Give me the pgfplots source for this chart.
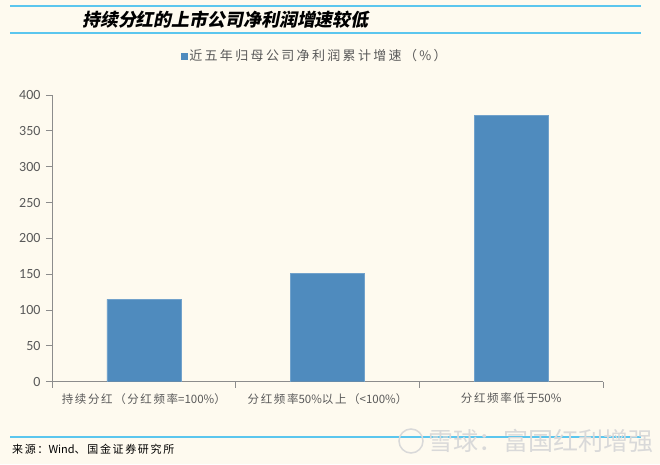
\documentclass[border=0pt]{standalone}
\usepackage{fontspec}
\usepackage{pgfplots}
\pgfplotsset{compat=1.18}
\setmainfont{Carlito}
\newfontfamily\cjk[LetterSpace=15]{Noto Sans CJK SC}
\newfontfamily\cjktick[LetterSpace=14]{Noto Sans CJK SC}
\newfontfamily\cjkleg[LetterSpace=18]{Noto Sans CJK SC}
\newfontfamily\cjkplain{Noto Sans CJK SC}
\newfontfamily\cjktitle[FakeSlant=0.2]{Noto Sans CJK SC}
\newcommand\asc[1]{{\cjkplain #1}}
\definecolor{bg}{HTML}{FEFAEF}
\definecolor{barblue}{HTML}{4F8BBE}
\definecolor{linecol}{HTML}{5BC6EE}
\definecolor{axisgray}{HTML}{8C8C8C}
\definecolor{textgray}{HTML}{595959}
\begin{document}
\begin{tikzpicture}[x=1pt,y=1pt]
\fill[bg] (0,0) rectangle (660,464);
\useasboundingbox (0,0) rectangle (660,464);
\draw[linecol, line width=1.6pt] (10,458) -- (641,458);
\draw[linecol, line width=1.6pt] (10,431) -- (641,431);
\node[anchor=west, inner sep=0pt, font=\cjktitle\bfseries\fontsize{17.9}{17.9}\selectfont] at (82,444.5) {持续分红的上市公司净利润增速较低};
\draw[linecol, line width=1.2pt] (10,27) -- (641,27);
\node[anchor=west, inner sep=0pt, font=\cjk\fontsize{11}{11}\selectfont] at (12,15) {来源：\asc{Wind}、国金证券研究所};
\node[anchor=west, inner sep=0pt, text=gray!30, font=\cjkplain\fontsize{25}{25}\selectfont] at (428,23) {雪球：富国红利增强};
\draw[gray!30, line width=1.5pt] (411,23) circle (12);
\begin{axis}[
  at={(52pt,82.3pt)}, anchor=south west,
  scale only axis, width=551pt, height=286.7pt,
  ybar, bar width=74pt,
  ymin=0, ymax=400, ytick={0,50,...,400},
  xmin=-0.5, xmax=2.5, xtick={0,1,2},
  xticklabels={持续分红（分红频率\asc{=100\%}）, 分红频率\asc{50\%}以上（\asc{<100\%}）, 分红频率低于\asc{50\%}},
  minor xtick={-0.5,0.5,1.5,2.5},
  major x tick style={draw=none},
  tick align=outside,
  major tick length=6pt, minor tick length=6pt,
  tick style={axisgray, line width=0.8pt},
  axis x line*=bottom, axis y line*=left,
  axis line style={draw=axisgray, line width=0.8pt, -},
  /pgf/number format/assume math mode=true,
  yticklabel style={font=\fontsize{14}{14}\selectfont, text=textgray, xshift=-2pt},
  xticklabel style={font=\cjktick\fontsize{11.5}{11.5}\selectfont, text=textgray, yshift=-2pt},
  legend style={at={(0.477,1.136)}, anchor=center, draw=none, fill=none,
    font=\cjkleg\fontsize{13}{13}\selectfont, text=textgray},
  legend image code/.code={\fill[barblue] (1pt,-3pt) rectangle (7pt,3pt);},
]
\addplot[fill=barblue, draw=barblue!80!white] coordinates {(0,115) (1,151) (2,372)};
\legend{近五年归母公司净利润累计增速（\%）}
\end{axis}
\end{tikzpicture}
\end{document}
